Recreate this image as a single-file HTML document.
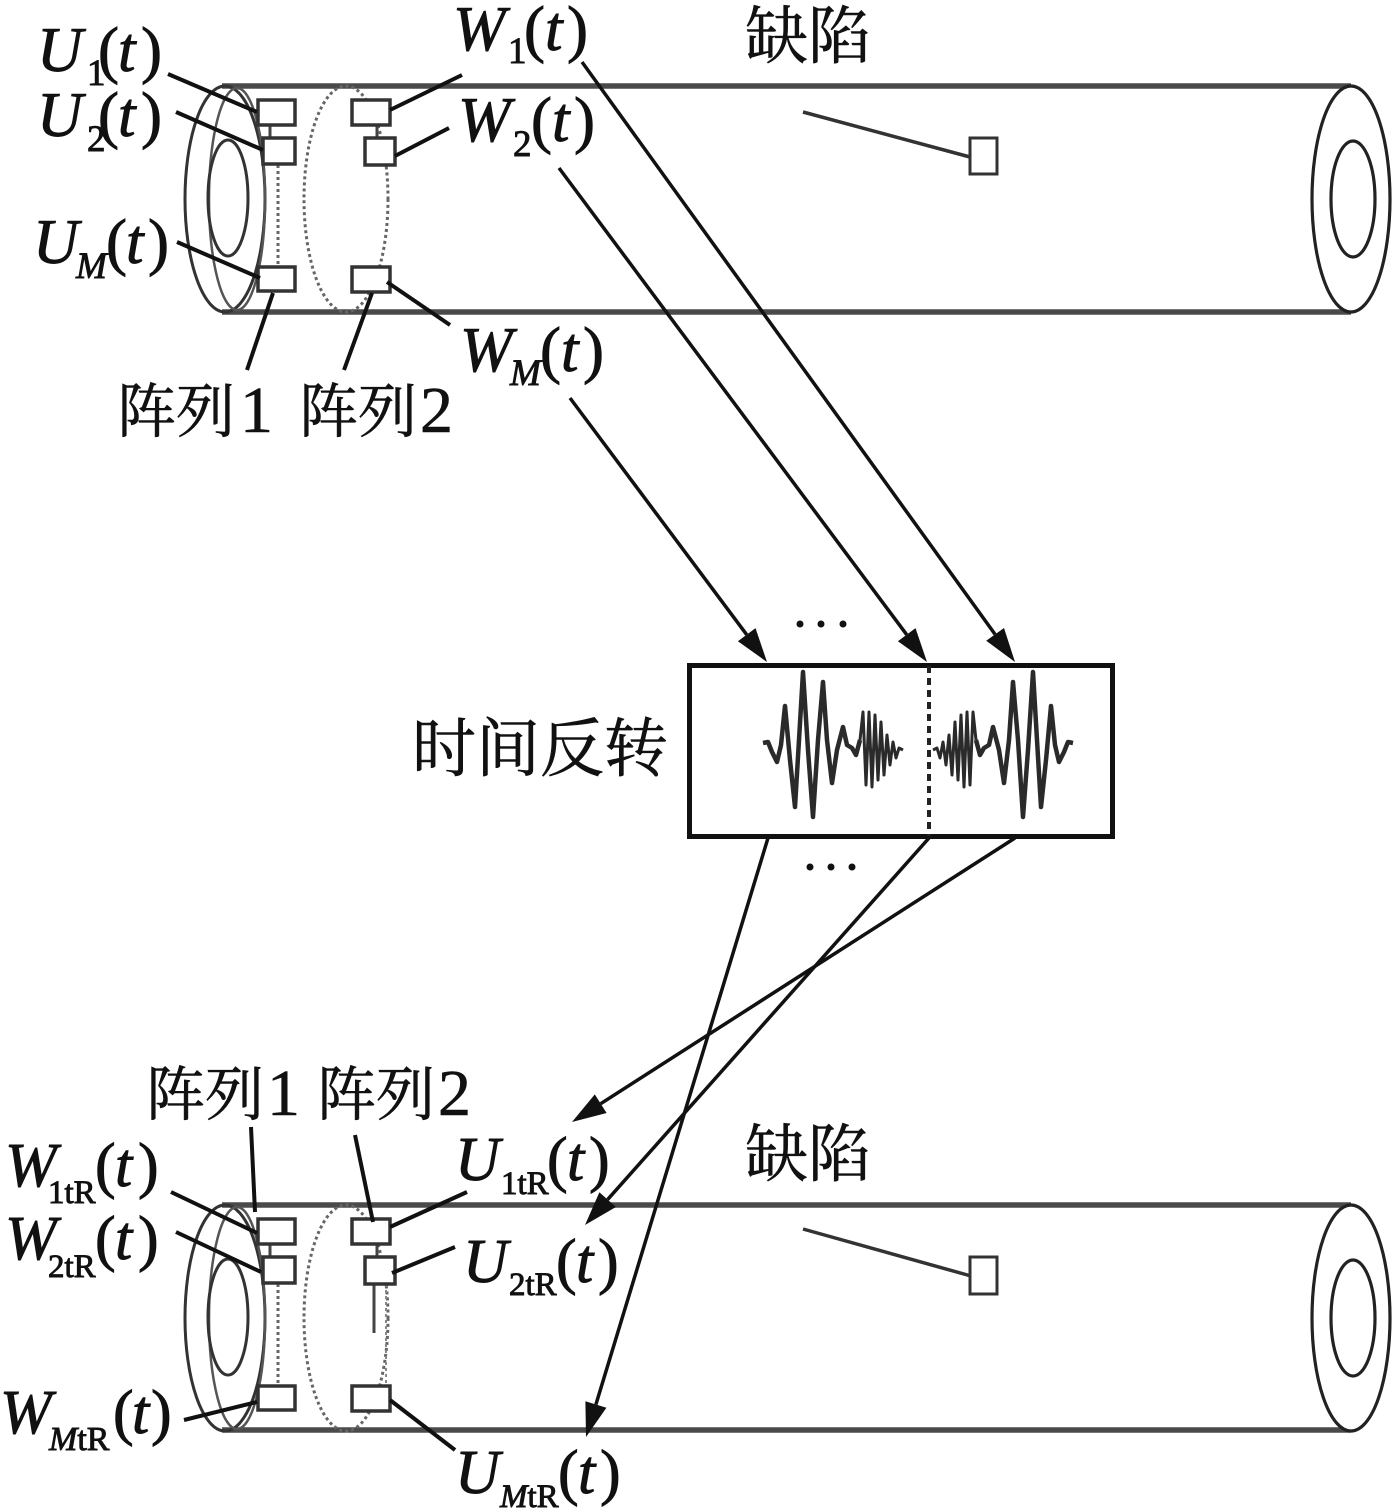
<!DOCTYPE html>
<html><head><meta charset="utf-8"><style>
html,body{margin:0;padding:0;background:#fff;}
svg{display:block;}
text{font-family:"Liberation Serif","Noto Serif CJK SC",serif;fill:#111;stroke:#111;stroke-width:0.9;}
.cn{font-family:"Liberation Serif","Noto Serif CJK SC",serif;stroke-width:0.6;}
.i{font-style:italic;}
</style></head><body>
<svg width="1396" height="1509" viewBox="0 0 1396 1509" xmlns="http://www.w3.org/2000/svg">
<rect width="1396" height="1509" fill="#fff"/>

<!-- ============ TOP PIPE ============ -->
<g>
  <line x1="222" y1="86" x2="1351" y2="86" stroke="#4a4a4a" stroke-width="5.5"/>
  <line x1="222" y1="312" x2="1351" y2="312" stroke="#4a4a4a" stroke-width="5.5"/>
  <ellipse cx="225" cy="199" rx="40" ry="113" fill="none" stroke="#333" stroke-width="3"/>
  <ellipse cx="237" cy="199" rx="28" ry="111" fill="none" stroke="#555" stroke-width="2.5"/>
  <ellipse cx="228" cy="198" rx="20" ry="58" fill="none" stroke="#333" stroke-width="3"/>
  <ellipse cx="346" cy="199" rx="42" ry="113" fill="none" stroke="#666" stroke-width="3" stroke-dasharray="3 3"/>
  <line x1="278" y1="165" x2="278" y2="267" stroke="#666" stroke-width="3" stroke-dasharray="3 3"/>
  <line x1="270" y1="125" x2="270" y2="138" stroke="#444" stroke-width="3"/>
  <line x1="377" y1="125" x2="377" y2="138" stroke="#444" stroke-width="3"/>
  <rect x="258" y="100" width="37" height="25" fill="#fff" stroke="#333" stroke-width="3.5"/>
  <rect x="263" y="138" width="32" height="26" fill="#fff" stroke="#333" stroke-width="3.5"/>
  <rect x="258" y="267" width="37" height="24" fill="#fff" stroke="#333" stroke-width="3.5"/>
  <rect x="352" y="100" width="38" height="25" fill="#fff" stroke="#333" stroke-width="3.5"/>
  <rect x="365" y="138" width="30" height="27" fill="#fff" stroke="#333" stroke-width="3.5"/>
  <rect x="352" y="267" width="38" height="25" fill="#fff" stroke="#333" stroke-width="3.5"/>
  <ellipse cx="1351" cy="199" rx="39" ry="113" fill="#fff" stroke="#222" stroke-width="3.2"/>
  <ellipse cx="1353" cy="199" rx="22" ry="58" fill="none" stroke="#222" stroke-width="3.2"/>
  <line x1="803" y1="112" x2="970" y2="157" stroke="#333" stroke-width="3.5"/>
  <rect x="970" y="138" width="27" height="36" fill="#fff" stroke="#333" stroke-width="3"/>
</g>

<!-- ============ BOTTOM PIPE ============ -->
<g transform="translate(0,1119)">
  <line x1="222" y1="86" x2="1351" y2="86" stroke="#4a4a4a" stroke-width="5.5"/>
  <line x1="222" y1="311" x2="1351" y2="311" stroke="#4a4a4a" stroke-width="5.5"/>
  <ellipse cx="225" cy="199" rx="40" ry="113" fill="none" stroke="#333" stroke-width="3"/>
  <ellipse cx="237" cy="199" rx="28" ry="111" fill="none" stroke="#555" stroke-width="2.5"/>
  <ellipse cx="228" cy="198" rx="20" ry="58" fill="none" stroke="#333" stroke-width="3"/>
  <ellipse cx="346" cy="199" rx="42" ry="113" fill="none" stroke="#666" stroke-width="3" stroke-dasharray="3 3"/>
  <line x1="278" y1="165" x2="278" y2="267" stroke="#666" stroke-width="3" stroke-dasharray="3 3"/>
  <line x1="386" y1="165" x2="386" y2="267" stroke="#888" stroke-width="2" stroke-dasharray="3 3"/>
  <line x1="374" y1="165" x2="374" y2="214" stroke="#444" stroke-width="3"/>
  <line x1="270" y1="125" x2="270" y2="138" stroke="#444" stroke-width="3"/>
  <line x1="377" y1="125" x2="377" y2="138" stroke="#444" stroke-width="3"/>
  <rect x="258" y="100" width="37" height="25" fill="#fff" stroke="#333" stroke-width="3.5"/>
  <rect x="263" y="138" width="32" height="26" fill="#fff" stroke="#333" stroke-width="3.5"/>
  <rect x="258" y="267" width="37" height="24" fill="#fff" stroke="#333" stroke-width="3.5"/>
  <rect x="352" y="100" width="38" height="25" fill="#fff" stroke="#333" stroke-width="3.5"/>
  <rect x="365" y="138" width="30" height="27" fill="#fff" stroke="#333" stroke-width="3.5"/>
  <rect x="352" y="267" width="38" height="25" fill="#fff" stroke="#333" stroke-width="3.5"/>
  <ellipse cx="1351" cy="199" rx="39" ry="113" fill="#fff" stroke="#222" stroke-width="3.2"/>
  <ellipse cx="1353" cy="199" rx="22" ry="58" fill="none" stroke="#222" stroke-width="3.2"/>
  <line x1="803" y1="110" x2="971" y2="157" stroke="#333" stroke-width="3.5"/>
  <rect x="970" y="138" width="27" height="37" fill="#fff" stroke="#333" stroke-width="3"/>
</g>

<!-- ============ LEADER LINES ============ -->
<g stroke="#111" stroke-width="4" stroke-linecap="butt">
  <line x1="168" y1="74" x2="257" y2="112"/>
  <line x1="176" y1="112" x2="263" y2="150"/>
  <line x1="177" y1="242" x2="260" y2="278"/>
  <line x1="462" y1="75" x2="390" y2="110"/>
  <line x1="449" y1="128" x2="395" y2="156"/>
  <line x1="387" y1="282" x2="450" y2="325"/>
  <line x1="273" y1="293" x2="247" y2="370"/>
  <line x1="372" y1="293" x2="344" y2="370"/>

  <line x1="171" y1="1192" x2="257" y2="1233"/>
  <line x1="176" y1="1232" x2="261" y2="1272"/>
  <line x1="184" y1="1420" x2="257" y2="1402"/>
  <line x1="251" y1="1127" x2="255" y2="1212"/>
  <line x1="355" y1="1135" x2="373" y2="1222"/>
  <line x1="467" y1="1192" x2="390" y2="1227"/>
  <line x1="455" y1="1247" x2="392" y2="1273"/>
  <line x1="390" y1="1400" x2="455" y2="1450"/>
</g>

<!-- ============ TIME REVERSAL BOX ============ -->
<rect x="689.5" y="665.5" width="423" height="171" fill="#fff" stroke="#111" stroke-width="5"/>
<line x1="929" y1="666" x2="929" y2="836" stroke="#222" stroke-width="4" stroke-dasharray="7 5"/>
<g fill="none" stroke="#2a2a2a" stroke-linejoin="round">
  <g id="wl">
    <polyline stroke-width="4.5" points="763,743 768,742 772,752 777,762 781,745 785,706 790,760 795,807 799,740 803,672 808,750 813,817 818,740 823,682 827,740 832,783 837,750 843,727 847,745 852,748 856,755 860,740"/>
    <polyline stroke-width="3" points="860,740 863,712 866,785 869,712 872,787 875,715 878,780 881,722 884,775 887,735 890,765 893,742 896,758 899,748 903,750"/>
  </g>
  <g transform="translate(1836,0) scale(-1,1)">
    <polyline stroke-width="4.5" points="763,743 768,742 772,752 777,762 781,745 785,706 790,760 795,807 799,740 803,672 808,750 813,817 818,740 823,682 827,740 832,783 837,750 843,727 847,745 852,748 856,755 860,740"/>
    <polyline stroke-width="3" points="860,740 863,712 866,785 869,712 872,787 875,715 878,780 881,722 884,775 887,735 890,765 893,742 896,758 899,748 903,750"/>
  </g>
</g>
<g fill="#111">
  <circle cx="800" cy="624" r="3.5"/><circle cx="821" cy="624" r="3.5"/><circle cx="843" cy="624" r="3.5"/>
  <circle cx="810" cy="867" r="3.5"/><circle cx="831" cy="867" r="3.5"/><circle cx="852" cy="867" r="3.5"/>
</g>

<!-- ============ ARROWS ============ -->
<g stroke="#111" stroke-width="3.5">
  <line x1="582" y1="62" x2="995.1" y2="634.4"/>
  <line x1="559" y1="168" x2="906.7" y2="634.7"/>
  <line x1="570" y1="398" x2="746.7" y2="634.7"/>
  <line x1="1015" y1="838" x2="600.7" y2="1103.7"/>
  <line x1="929" y1="838" x2="607.6" y2="1199.6"/>
  <line x1="768" y1="838" x2="595.9" y2="1404.5"/>
</g>
<g fill="#111">
  <polygon points="1015,662 986.2,640.8 1004.0,628.0"/>
  <polygon points="927,662 897.9,641.3 915.5,628.1"/>
  <polygon points="767,662 737.9,641.3 755.5,628.1"/>
  <polygon points="572,1122 594.8,1094.4 606.6,1113.0"/>
  <polygon points="585,1225 599.4,1192.3 615.9,1207.0"/>
  <polygon points="586,1437 585.4,1401.3 606.4,1407.7"/>
</g>

<!-- ============ CHINESE LABELS ============ -->
<text class="cn" x="745" y="58" font-size="63">缺陷</text>
<text class="cn" x="745" y="1176" font-size="63">缺陷</text>
<text class="cn" x="412" y="771" font-size="64">时间反转</text>

<text class="cn" font-size="59" y="432"><tspan x="117">阵列</tspan><tspan x="240" font-size="66">1</tspan><tspan x="299">阵列</tspan><tspan x="420" font-size="66">2</tspan></text>
<text class="cn" font-size="59" y="1115"><tspan x="146">阵列</tspan><tspan x="267" font-size="66">1</tspan><tspan x="317">阵列</tspan><tspan x="438" font-size="66">2</tspan></text>

<!-- ============ MATH LABELS (top) ============ -->
<text font-size="63" y="71"><tspan x="37" class="i">U</tspan><tspan x="87" y="85" font-size="37">1</tspan><tspan x="98" y="71">(</tspan><tspan x="118" class="i">t</tspan><tspan x="141">)</tspan></text>
<text font-size="63" y="136"><tspan x="37" class="i">U</tspan><tspan x="87" y="151" font-size="37">2</tspan><tspan x="98" y="136">(</tspan><tspan x="118" class="i">t</tspan><tspan x="141">)</tspan></text>
<text font-size="63" y="263"><tspan x="33" class="i">U</tspan><tspan x="76" y="278" font-size="37" class="i">M</tspan><tspan x="106" y="263">(</tspan><tspan x="126" class="i">t</tspan><tspan x="148">)</tspan></text>

<text font-size="63" y="50"><tspan x="453" class="i">W</tspan><tspan x="508" y="63" font-size="37">1</tspan><tspan x="524" y="50">(</tspan><tspan x="545" class="i">t</tspan><tspan x="567">)</tspan></text>
<text font-size="63" y="141"><tspan x="458" class="i">W</tspan><tspan x="513" y="156" font-size="37">2</tspan><tspan x="531" y="141">(</tspan><tspan x="552" class="i">t</tspan><tspan x="574">)</tspan></text>
<text font-size="63" y="371"><tspan x="460" class="i">W</tspan><tspan x="510" y="385" font-size="37" class="i">M</tspan><tspan x="540" y="371">(</tspan><tspan x="561" class="i">t</tspan><tspan x="583">)</tspan></text>

<!-- ============ MATH LABELS (bottom) ============ -->
<text font-size="62" y="1186"><tspan x="5" class="i">W</tspan><tspan x="48" y="1203" font-size="33">1tR</tspan><tspan x="95" y="1186">(</tspan><tspan x="115" class="i">t</tspan><tspan x="138">)</tspan></text>
<text font-size="62" y="1259"><tspan x="5" class="i">W</tspan><tspan x="48" y="1277" font-size="33">2tR</tspan><tspan x="95" y="1259">(</tspan><tspan x="115" class="i">t</tspan><tspan x="138">)</tspan></text>
<text font-size="62" y="1433"><tspan x="0" class="i">W</tspan><tspan x="49" y="1450" font-size="34"><tspan class="i">M</tspan>tR</tspan><tspan x="113" y="1433">(</tspan><tspan x="132" class="i">t</tspan><tspan x="151">)</tspan></text>

<text font-size="62" y="1180"><tspan x="455" class="i">U</tspan><tspan x="501" y="1194" font-size="33">1tR</tspan><tspan x="547" y="1180">(</tspan><tspan x="567" class="i">t</tspan><tspan x="589">)</tspan></text>
<text font-size="62" y="1282"><tspan x="463" class="i">U</tspan><tspan x="509" y="1295" font-size="33">2tR</tspan><tspan x="556" y="1282">(</tspan><tspan x="576" class="i">t</tspan><tspan x="598">)</tspan></text>
<text font-size="62" y="1493"><tspan x="455" class="i">U</tspan><tspan x="500" y="1507" font-size="33"><tspan class="i">M</tspan>tR</tspan><tspan x="558" y="1493">(</tspan><tspan x="578" class="i">t</tspan><tspan x="600">)</tspan></text>

</svg>
</body></html>
